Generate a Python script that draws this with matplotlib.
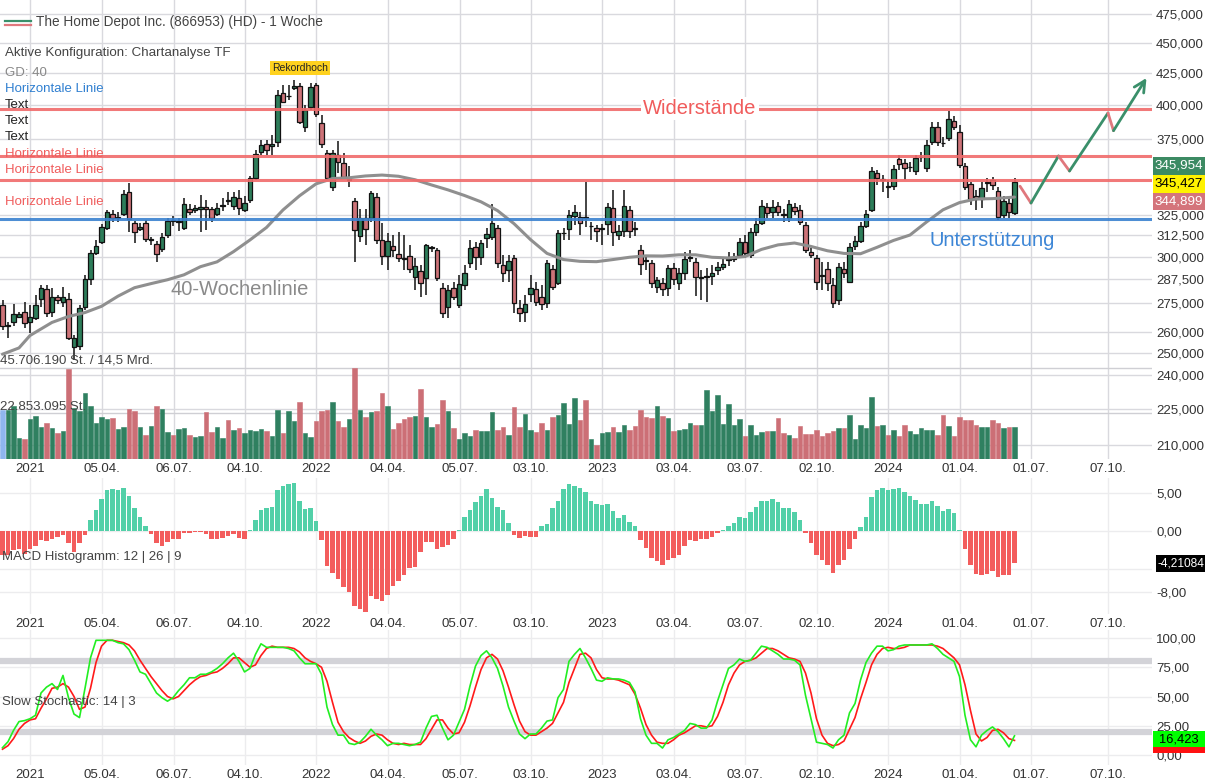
import numpy as np
import pandas as pd
import matplotlib
matplotlib.use('Agg')
import matplotlib.pyplot as plt
import matplotlib.dates as mdates
from matplotlib.lines import Line2D
from matplotlib.patches import Rectangle
from matplotlib.ticker import FixedLocator, NullLocator

plt.rcParams['font.family'] = ['Liberation Sans', 'DejaVu Sans']

W, H = 1205, 784

# weekly candles, first week = 30.11.2020
FIRST_WEEK = '2020-11-30'

opens = [
    273.9, 263.2, 265.2, 267.7, 270.3, 265.2, 267.2, 277.0, 282.3, 270.3,
    278.1, 275.4, 277.0, 252.9, 253.4, 272.8, 287.7, 302.2, 308.6, 316.9,
    325.4, 322.9, 325.4, 339.3, 319.9, 316.3, 319.9, 309.8, 307.4, 304.5,
    312.7, 321.8, 320.8, 316.9, 328.5, 327.9, 328.5, 329.7, 328.5, 325.4,
    330.4, 334.2, 330.4, 335.4, 327.9, 334.2, 348.4, 365.9, 371.5, 370.1,
    372.9, 409.2, 406.5, 413.1, 414.6, 383.7, 398.5, 415.4, 386.6, 365.2,
    342.5, 363.9, 358.3, 346.8, 333.5, 312.1, 322.9, 322.9, 336.0, 309.8,
    300.5, 306.3, 301.6, 299.4, 300.5, 288.8, 292.1, 288.2, 305.2, 304.0,
    282.8, 272.8, 282.8, 273.9, 284.5, 296.6, 305.7, 299.9, 311.0, 311.5,
    316.9, 295.5, 292.7, 299.4, 272.3, 270.3, 279.8, 282.3, 278.1, 274.9,
    293.2, 285.5, 313.6, 316.3, 324.2, 323.5, 323.5, 317.8, 316.9, 316.5,
    319.3, 329.1, 312.7, 315.1, 327.9, 316.9, 304.0, 298.3, 296.6, 283.4,
    285.5, 282.8, 293.8, 285.5, 291.0, 299.4, 297.2, 288.5, 288.8, 289.3,
    292.7, 294.4, 298.3, 298.8, 301.1, 308.6, 301.1, 314.5, 319.9, 329.7,
    326.6, 330.4, 325.4, 322.9, 329.7, 327.9, 318.7, 302.8, 299.4, 289.9,
    293.2, 284.5, 276.5, 293.2, 286.1, 306.3, 309.2, 318.1, 327.9, 351.7,
    347.1, 342.8, 343.1, 361.1, 358.3, 355.4, 353.0, 362.2, 355.0, 372.9,
    383.7, 372.5, 375.8, 388.1, 380.1, 356.4, 344.4, 336.7, 334.8, 345.1,
    347.1, 339.9, 324.8, 332.2, 326.0]

highs = [
    276.5, 265.2, 274.4, 270.3, 275.4, 273.9, 279.2, 284.5, 284.5, 282.8,
    279.2, 283.3, 280.3, 258.8, 273.9, 289.9, 304.0, 309.8, 319.2, 327.9,
    327.9, 326.6, 340.6, 345.1, 321.0, 319.9, 321.8, 311.6, 309.2, 313.9,
    322.9, 324.2, 322.9, 335.4, 331.6, 331.0, 337.4, 334.0, 329.7, 332.2,
    335.4, 339.3, 339.3, 340.6, 336.7, 349.8, 367.3, 374.4, 374.4, 377.9,
    411.5, 415.4, 415.4, 419.4, 417.0, 400.0, 417.0, 417.0, 392.5, 367.3,
    367.3, 373.6, 365.2, 356.4, 335.4, 328.5, 328.5, 339.9, 338.6, 319.9,
    313.9, 312.7, 314.5, 312.7, 306.9, 299.4, 295.5, 307.4, 306.3, 305.0,
    285.5, 284.5, 286.1, 289.9, 295.5, 309.8, 308.6, 309.8, 316.9, 331.6,
    318.7, 301.1, 301.1, 301.1, 276.5, 279.2, 289.9, 286.1, 284.5, 298.3,
    295.5, 315.7, 316.9, 327.9, 331.0, 326.6, 345.7, 320.6, 318.7, 319.2,
    332.2, 340.6, 318.7, 340.6, 330.4, 320.6, 306.9, 301.1, 298.3, 288.8,
    288.2, 295.5, 296.6, 293.8, 302.8, 304.0, 299.4, 292.7, 293.8, 295.5,
    297.2, 299.4, 302.8, 302.2, 311.0, 312.7, 316.9, 322.9, 334.2, 332.2,
    334.2, 332.8, 328.5, 334.2, 332.2, 331.0, 320.6, 305.1, 301.1, 297.2,
    297.2, 288.2, 296.6, 297.2, 308.0, 312.1, 320.6, 327.9, 355.7, 353.7,
    350.4, 347.1, 357.1, 363.9, 360.9, 359.1, 363.9, 365.9, 374.4, 387.3,
    387.3, 376.5, 395.5, 391.8, 385.1, 358.3, 345.7, 340.6, 345.7, 348.4,
    349.1, 342.5, 336.7, 336.7, 348.4]

lows = [
    261.3, 257.3, 263.2, 267.2, 262.2, 259.8, 266.3, 272.8, 267.7, 267.7,
    274.4, 272.8, 256.4, 246.8, 251.5, 271.4, 284.5, 301.0, 307.4, 315.7,
    320.6, 320.6, 324.2, 314.5, 308.0, 315.1, 308.6, 306.9, 297.1, 302.8,
    311.0, 318.0, 315.1, 315.7, 324.8, 326.0, 314.5, 315.7, 320.6, 324.2,
    327.3, 331.0, 327.9, 324.8, 326.6, 332.2, 347.1, 363.9, 363.9, 363.9,
    369.5, 401.5, 403.8, 411.5, 385.9, 380.0, 396.2, 391.0, 369.0, 347.0,
    340.0, 352.0, 347.8, 342.5, 297.2, 308.6, 306.9, 320.6, 307.4, 295.5,
    292.7, 300.0, 297.2, 292.7, 291.0, 281.8, 278.0, 279.2, 302.8, 286.6,
    267.3, 267.3, 276.5, 272.3, 281.8, 293.8, 292.7, 295.5, 305.1, 309.8,
    293.8, 286.1, 286.1, 269.8, 265.2, 265.2, 275.4, 273.4, 271.4, 272.3,
    281.8, 284.5, 309.8, 309.8, 318.7, 312.7, 317.5, 309.8, 308.6, 306.9,
    312.7, 306.3, 309.8, 311.5, 311.0, 312.1, 289.9, 292.7, 282.8, 280.2,
    278.6, 278.6, 284.5, 281.8, 287.2, 297.2, 278.6, 276.5, 275.4, 284.5,
    289.9, 292.7, 294.9, 297.2, 299.4, 299.4, 299.4, 312.1, 318.7, 322.9,
    322.9, 324.2, 320.6, 320.6, 324.8, 318.7, 302.2, 299.4, 281.8, 281.8,
    281.0, 272.3, 273.9, 288.2, 285.5, 304.0, 308.0, 316.9, 326.6, 343.8,
    339.3, 335.4, 340.6, 353.7, 347.1, 352.4, 350.4, 359.1, 352.4, 370.8,
    370.1, 369.5, 373.6, 381.5, 355.0, 340.6, 331.0, 327.9, 329.1, 339.3,
    340.6, 321.8, 322.9, 322.9, 324.8]

closes = [
    263.2, 263.7, 269.2, 269.2, 264.7, 267.7, 273.9, 282.8, 269.8, 278.1,
    276.5, 278.1, 257.3, 257.3, 272.3, 287.7, 302.2, 306.3, 317.5, 326.6,
    322.9, 323.5, 338.0, 322.3, 314.5, 317.5, 310.4, 310.2, 301.6, 311.5,
    321.1, 321.4, 321.4, 331.6, 326.6, 329.1, 329.7, 328.5, 322.9, 329.1,
    331.0, 333.8, 336.0, 329.1, 332.2, 348.4, 364.6, 370.8, 367.3, 371.5,
    407.7, 402.3, 406.9, 414.6, 387.3, 396.2, 413.9, 393.2, 371.5, 348.4,
    365.2, 359.1, 349.0, 347.4, 315.7, 322.9, 316.3, 338.6, 309.8, 300.5,
    309.2, 304.0, 299.4, 298.8, 293.2, 294.9, 285.5, 306.9, 305.7, 288.2,
    269.8, 281.8, 278.1, 285.0, 291.0, 305.1, 299.9, 308.0, 313.3, 319.9,
    296.6, 291.0, 297.7, 274.9, 269.8, 274.4, 282.8, 275.4, 274.4, 296.6,
    283.4, 313.9, 313.9, 324.8, 326.6, 319.9, 323.0, 318.3, 315.1, 316.9,
    329.7, 314.5, 315.1, 330.4, 315.1, 316.5, 296.0, 297.8, 285.5, 287.2,
    282.3, 293.8, 287.7, 291.0, 298.8, 299.9, 288.8, 288.8, 289.3, 291.0,
    294.4, 296.0, 298.8, 299.4, 308.6, 302.2, 314.5, 319.3, 330.4, 326.0,
    329.7, 326.6, 325.0, 331.6, 327.2, 320.6, 304.0, 301.1, 286.1, 289.6,
    285.5, 274.9, 294.3, 291.0, 305.7, 309.2, 318.1, 325.4, 353.0, 348.4,
    347.4, 342.5, 354.4, 357.7, 355.0, 355.7, 361.8, 362.5, 370.8, 383.7,
    372.9, 372.2, 389.5, 383.7, 357.1, 342.5, 334.8, 334.8, 341.8, 345.7,
    343.8, 323.6, 333.5, 326.6, 345.427]

# weekly volume in million shares
volume_mio = [
    24.3, 24.3, 26.7, 10.5, 10.0, 20.0, 21.3, 15.8, 18.0, 15.5,
    13.0, 13.8, 45.0, 25.5, 23.8, 33.0, 26.3, 18.0, 21.0, 20.0,
    20.5, 15.0, 16.0, 25.0, 24.2, 16.0, 11.8, 16.3, 26.3, 25.0,
    13.3, 12.0, 15.0, 15.5, 12.2, 11.0, 11.7, 23.5, 13.3, 16.0,
    10.5, 19.7, 14.3, 15.5, 13.0, 14.3, 14.2, 15.0, 14.2, 11.7,
    24.7, 13.0, 23.8, 19.2, 28.5, 13.0, 11.0, 19.2, 24.2, 24.3,
    28.5, 19.2, 16.0, 20.0, 45.5, 24.3, 20.8, 23.5, 24.2, 33.0,
    26.3, 15.0, 18.0, 20.0, 20.8, 21.3, 35.0, 21.0, 15.8, 17.5,
    29.3, 24.2, 15.5, 10.2, 13.0, 11.7, 14.7, 14.2, 14.2, 23.3,
    14.7, 16.0, 12.2, 25.8, 16.0, 22.7, 14.7, 13.3, 18.0, 14.3,
    21.0, 22.2, 28.0, 17.5, 30.5, 19.3, 29.7, 10.2, 7.2, 13.0,
    13.3, 15.8, 13.3, 17.2, 14.7, 16.3, 24.7, 21.0, 20.5, 26.3,
    21.7, 20.5, 13.8, 14.7, 15.0, 18.0, 17.2, 16.8, 34.7, 23.8,
    32.2, 17.7, 27.5, 17.2, 20.0, 11.3, 17.2, 12.2, 13.5, 13.8,
    14.2, 20.5, 13.0, 11.8, 10.7, 16.3, 12.5, 12.5, 14.7, 11.3,
    13.0, 14.0, 15.3, 15.5, 22.2, 10.2, 16.8, 15.5, 31.0, 16.7,
    17.2, 11.8, 14.3, 11.7, 17.2, 14.2, 12.7, 15.5, 14.7, 14.7,
    12.2, 22.2, 16.5, 11.7, 20.8, 19.5, 19.5, 16.8, 16.0, 16.2,
    19.7, 18.0, 15.5, 15.8, 15.8]

macd_hist = [
    -3.1, -3.1, -2.5, -2.3, -3.0, -2.3, -2.0, -1.2, -1.3, -1.0,
    -0.75, -0.5, -1.6, -2.7, -1.6, -0.5, 1.5, 2.7, 4.2, 5.4,
    5.5, 5.4, 5.7, 4.6, 3.0, 1.9, 0.7, -0.4, -1.6, -1.9,
    -1.4, -1.1, -1.1, -0.3, -0.2, -0.1, -0.1, -0.35, -1.0, -1.0,
    -0.85, -0.65, -0.35, -0.85, -1.0, 0.1, 1.5, 2.7, 3.0, 3.1,
    5.4, 5.9, 6.2, 6.3, 4.0, 2.9, 3.0, 1.3, -1.2, -4.6,
    -5.5, -6.3, -7.4, -8.0, -9.8, -10.3, -10.6, -8.6, -8.9, -9.2,
    -8.4, -7.2, -6.5, -5.8, -4.9, -4.7, -2.7, -1.4, -1.4, -2.4,
    -2.1, -1.8, -1.0, 0.1, 1.9, 2.7, 3.8, 4.6, 5.5, 4.3,
    3.2, 2.7, 1.0, -0.5, -0.9, -0.7, -0.75, -0.75, 0.7, 0.9,
    3.0, 4.0, 5.5, 6.2, 5.9, 5.7, 5.1, 3.9, 3.5, 3.4,
    3.6, 2.6, 1.7, 2.1, 1.2, 0.7, -1.2, -2.2, -3.5, -4.0,
    -4.5, -3.8, -3.5, -3.1, -1.9, -1.2, -1.3, -1.1, -1.1, -0.75,
    -0.2, 0.15, 0.6, 1.0, 1.8, 1.7, 2.5, 3.1, 4.0, 4.0,
    4.2, 3.8, 3.0, 3.0, 2.5, 1.5, -0.2, -1.6, -3.1, -3.8,
    -4.5, -5.5, -4.5, -3.8, -2.3, -1.0, 0.5, 1.8, 4.5, 5.4,
    5.7, 5.4, 5.5, 5.7, 5.1, 4.6, 4.1, 3.5, 3.6, 3.9,
    3.3, 2.6, 2.9, 2.4, 0.1, -2.3, -4.5, -5.7, -5.8, -5.6,
    -5.2, -6.0, -5.8, -5.8, -4.21084]

stoch_k = [
    6.3, 11.4, 21, 28.6, 29.4, 31, 34, 53, 58, 61,
    56, 68, 49, 35, 32, 57, 83, 98, 98, 98,
    98, 96, 95, 90, 81, 71, 69, 61, 53, 49,
    46, 49, 55, 60, 66, 66, 69, 69, 71, 74,
    78, 83, 87, 80, 71, 74, 86, 95, 92, 92,
    92, 92, 91, 89, 83, 78, 78, 78, 69, 41,
    26, 17, 17, 10, 9, 11, 16, 22, 17, 13,
    8, 10, 10, 9, 8, 9, 11, 23, 33, 34,
    23, 13, 17, 28, 39, 59, 76, 85, 89, 83,
    74, 59, 41, 29, 18, 14, 18, 18, 23, 29,
    30, 49, 56, 80, 86, 91, 83, 74, 64, 63,
    66, 65, 65, 64, 62, 54, 31, 17, 10, 10,
    6, 13, 15, 18, 21, 27, 26, 23, 23, 30,
    46, 60, 74, 77, 82, 80, 81, 87, 93, 92,
    89, 86, 82, 82, 81, 77, 51, 31, 11, 10,
    9, 6, 13, 17, 36, 44, 64, 79, 87, 93,
    93, 89, 90, 93, 94, 94, 94, 94, 94, 95,
    91, 86, 83, 80, 67, 34, 13, 7, 17, 21,
    24, 20, 14, 7, 16.423]

stoch_d = [
    5, 8, 14, 22, 27, 30, 31, 40, 48, 57,
    58, 61, 58, 50, 39, 41, 57, 79, 93, 98,
    98, 97, 96, 94, 89, 81, 74, 67, 61, 55,
    50, 48, 50, 55, 60, 64, 67, 68, 70, 71,
    74, 78, 83, 83, 79, 75, 77, 85, 91, 93,
    92, 92, 92, 91, 88, 83, 80, 78, 75, 63,
    45, 28, 20, 15, 12, 10, 12, 16, 18, 17,
    13, 10, 9, 10, 9, 9, 9, 14, 22, 30,
    30, 23, 18, 19, 28, 42, 58, 73, 83, 86,
    82, 72, 58, 43, 29, 20, 17, 17, 20, 23,
    27, 36, 45, 62, 74, 86, 87, 83, 73, 66,
    65, 65, 64, 62, 60, 52, 40, 26, 17, 11,
    10, 10, 13, 17, 19, 22, 25, 25, 24, 25,
    33, 45, 60, 70, 77, 80, 81, 83, 87, 91,
    91, 89, 86, 83, 82, 80, 70, 53, 31, 17,
    10, 8, 9, 12, 22, 32, 48, 62, 77, 86,
    91, 92, 91, 91, 92, 94, 94, 94, 94, 94,
    93, 91, 87, 83, 77, 60, 38, 18, 12, 15,
    21, 22, 19, 14, 12.5]

# 40-week moving average (week index from first candle, value)
gd40_weeks = [0, 3, 5, 9, 12, 15, 18, 21, 24, 27,
              30, 33, 36, 39, 42, 45, 48, 51, 54, 57,
              60, 63, 66, 69, 72, 75, 78, 81, 84, 87,
              90, 93, 96, 99, 102, 105, 108, 111, 114, 117,
              120, 123, 126, 129, 132, 135, 138, 141, 144, 147,
              150, 153, 156, 159, 162, 165, 168, 171, 174, 177,
              180, 184]
gd40_values = [249.5, 252.5, 258.5, 265.0, 268.0, 270.0, 273.2, 278.5, 283.0, 285.2,
               287.3, 290.0, 294.5, 297.2, 303.0, 309.8, 317.2, 327.9, 336.8, 344.5,
               348.0, 348.5, 349.7, 350.3, 349.5, 347.2, 343.8, 340.6, 337.0, 333.0,
               327.5, 319.5, 310.0, 302.0, 298.5, 297.5, 297.3, 298.5, 299.8, 300.6,
               300.5, 301.2, 301.2, 299.8, 299.4, 300.2, 304.3, 306.9, 308.0, 306.0,
               303.5, 302.0, 301.8, 305.5, 309.5, 312.7, 320.5, 328.0, 332.5, 334.8,
               335.0, 336.0]

resistance_levels = [397.0, 363.2, 347.1]
support_level = 322.6

forecast_weeks = [185, 187, 192, 194, 201, 202, 208]
forecast_prices = [343.0, 332.2, 363.2, 353.0, 394.0, 381.0, 421.0]

tick_dates = ['2021-01-04', '2021-04-05', '2021-07-06', '2021-10-04', '2022-01-03',
              '2022-04-04', '2022-07-05', '2022-10-03', '2023-01-02', '2023-04-03',
              '2023-07-03', '2023-10-02', '2024-01-01', '2024-04-01', '2024-07-01',
              '2024-10-07']
tick_labels = ['2021', '05.04.', '06.07.', '04.10.', '2022', '04.04.', '05.07.', '03.10.',
               '2023', '03.04.', '03.07.', '02.10.', '2024', '01.04.', '01.07.', '07.10.']
price_ticks = [210, 225, 240, 250, 260, 275, 287.5, 300, 312.5, 325, 375, 400, 425, 450, 475]
macd_ticks = [5, 0, -5, -8]
stoch_ticks = [0, 25, 50, 75, 100]

GREEN = '#2d7d5a'
RED = '#cd7378'
GRID = '#d9d9de'
LIGHT = '#ececee'
TXT = '#444444'

start = pd.Timestamp(FIRST_WEEK)
dates = pd.date_range(start, periods=len(closes), freq='7D')
x = mdates.date2num(dates)
week_days = 7.0
px_per_week = 5.5
x0 = mdates.date2num(pd.Timestamp('2021-01-04')) - 30 / px_per_week * week_days
x1 = x0 + 1152 / px_per_week * week_days
tick_x = mdates.date2num(pd.to_datetime(tick_dates))

fig = plt.figure(figsize=(W / 100, H / 100), dpi=100)
fig.patch.set_facecolor('white')


def px_axes(left, top, right, bottom):
    return fig.add_axes([left / W, 1 - bottom / H, (right - left) / W, (bottom - top) / H])


def style(ax, grid_color):
    for s in ax.spines.values():
        s.set_visible(False)
    ax.set_xlim(x0, x1)
    ax.set_xticks(tick_x)
    ax.set_xticklabels(tick_labels)
    ax.yaxis.tick_right()
    ax.tick_params(axis='both', length=0, labelsize=9.5, labelcolor='#333333')
    ax.tick_params(axis='x', pad=3)
    ax.tick_params(axis='y', pad=3)
    ax.grid(True, color=grid_color, lw=1)
    ax.set_axisbelow(True)


def de(v, nd):
    return f'{v:.{nd}f}'.replace('.', ',')


# ---------------- main price panel ----------------
ax = px_axes(0, 0, 1152, 459)
style(ax, GRID)
ax.set_yscale('log')
ax.set_ylim(204.6, 488.0)
ax.yaxis.set_major_locator(FixedLocator(price_ticks))
ax.yaxis.set_minor_locator(NullLocator())
ax.set_yticklabels([de(v, 3) for v in price_ticks])

o, h, l, c = map(np.array, (opens, highs, lows, closes))
up = c >= o
ax.vlines(x, l, h, color='#111111', lw=1.1, zorder=3)
ax.bar(x, np.abs(c - o), bottom=np.minimum(o, c), width=4.3 / px_per_week * week_days,
       color=np.where(up, GREEN, RED), edgecolor='#111111', linewidth=0.9, zorder=4)

ma_x = mdates.date2num(start + pd.to_timedelta(np.array(gd40_weeks) * 7, unit='D'))
ax.plot(ma_x, gd40_values, color='#8f8f8f', lw=2.2, zorder=5, solid_capstyle='round')

for r in resistance_levels:
    ax.axhline(r, color='#f06b6b', lw=2.2, alpha=0.9, zorder=6)
ax.axhline(support_level, color='#3b82d0', lw=2.2, alpha=0.9, zorder=6)

fc_x = mdates.date2num(start + pd.to_timedelta(np.array(forecast_weeks) * 7, unit='D'))
for k in range(len(fc_x) - 1):
    col = '#3a8f6a' if forecast_prices[k + 1] > forecast_prices[k] else '#e0777d'
    if k == len(fc_x) - 2:
        ax.annotate('', xy=(fc_x[k + 1], forecast_prices[k + 1]),
                    xytext=(fc_x[k], forecast_prices[k]),
                    arrowprops=dict(arrowstyle='->', color=col, lw=2, mutation_scale=20,
                                    shrinkA=0, shrinkB=0), zorder=7)
    else:
        ax.plot(fc_x[k:k + 2], forecast_prices[k:k + 2], color=col, lw=2, zorder=7,
                solid_capstyle='round')


def wk(n):
    return mdates.date2num(start + pd.Timedelta(days=7 * n))


ax.text(wk(126.8), resistance_levels[0], 'Widerstände', ha='center', va='center',
        color='#f05c5c', fontsize=14.5, zorder=8,
        bbox=dict(fc='white', ec='none', pad=1.5))
ax.text(wk(168.6), 309.2, 'Unterstützung', ha='left', va='center',
        color='#3d86d6', fontsize=14.5, zorder=8)
ax.text(wk(30.5), 281.8, '40-Wochenlinie', ha='left', va='center',
        color='#8a8a8a', fontsize=14.5, zorder=8)
ax.text(wk(54.1), 429.0, 'Rekordhoch', ha='center', va='center', fontsize=7.5,
        color='#222222', zorder=8, bbox=dict(fc='#ffd21f', ec='none', pad=1.5))

# ---------------- volume overlay ----------------
axv = px_axes(0, 340, 1152, 459)
axv.patch.set_visible(False)
for s in axv.spines.values():
    s.set_visible(False)
axv.set_xlim(x0, x1)
axv.set_ylim(0, 59.5)
axv.set_xticks([])
axv.set_yticks([])
vcol = np.where(up, '#2f8060', '#cc6f76').astype(object)
vcol[0] = '#8fb6ef'
axv.bar(x, volume_mio, width=4.6 / px_per_week * week_days, color=list(vcol),
        edgecolor=list(vcol), linewidth=0.4, zorder=2)
for ref in (45.706190, 22.853095):
    axv.axhline(ref, color='#cfcfd4', lw=1, zorder=1)
axv.text(x0 + 0.3, 45.706190 + 0.3, '45.706.190 St. / 14,5 Mrd.', ha='left', va='bottom',
         fontsize=9.5, color=TXT, zorder=3)
axv.text(x0 + 0.3, 22.853095 + 0.3, '22.853.095 St.', ha='left', va='bottom',
         fontsize=9.5, color=TXT, zorder=3)

# ---------------- MACD ----------------
axm = px_axes(0, 478, 1152, 614)
style(axm, LIGHT)
axm.set_ylim(-10.9, 6.97)
axm.set_yticks(macd_ticks)
# the -5 label sits under the current-value box
axm.set_yticklabels(['' if v == -5 else de(v, 2) for v in macd_ticks])
mh = np.array(macd_hist)
axm.bar(x, mh, width=6.0, color=np.where(mh >= 0, '#52d0a8', '#f35d5d'), zorder=3)
axm.text(x0 + 3, -3.4, 'MACD Histogramm: 12 | 26 | 9', ha='left', va='center',
         fontsize=9.5, color=TXT, zorder=4)

# ---------------- Slow Stochastic ----------------
axs = px_axes(0, 630, 1152, 765)
style(axs, LIGHT)
axs.set_ylim(-8.5, 106.8)
axs.set_yticks(stoch_ticks)
axs.set_yticklabels([de(v, 2) for v in stoch_ticks])
axs.axhline(80, color='#d3d3d8', lw=4.5, zorder=2)
axs.axhline(20, color='#d3d3d8', lw=4.5, zorder=2)
axs.plot(x, stoch_d, color='#ff1a1a', lw=1.2, zorder=3)
axs.plot(x, stoch_k, color='#22ee22', lw=1.2, zorder=4)
axs.text(x0 + 3, 45.0, 'Slow Stochastic: 14 | 3', ha='left', va='center',
         fontsize=9.5, color=TXT, zorder=5)


# ---------------- header texts ----------------
def ftxt(px, py, s, color, size=9.5):
    fig.text(px / W, 1 - py / H, s, ha='left', va='center', color=color, fontsize=size)


fig.add_artist(Line2D([5 / W, 31 / W], [1 - 20.5 / H] * 2, color='#3a8f6a', lw=1.6))
fig.add_artist(Line2D([5 / W, 31 / W], [1 - 24.5 / H] * 2, color='#e0777d', lw=1.6))
ftxt(36, 22, 'The Home Depot Inc. (866953) (HD) - 1 Woche', '#444444', 9.8)
ftxt(5, 53, 'Aktive Konfiguration: Chartanalyse TF', '#444444', 9.6)
ftxt(5, 73, 'GD: 40', '#888888')
ftxt(5, 89, 'Horizontale Linie', '#2f7fd0')
for yy in (105, 121, 137):
    ftxt(5, yy, 'Text', '#222222')
for yy in (154, 170, 202):
    ftxt(5, yy, 'Horizontale Linie', '#f05c5c')


# ---------------- right value boxes ----------------
def vbox(top, bottom, left, s, fc, tc, size=9.6):
    fig.add_artist(Rectangle((left / W, 1 - bottom / H), (W - left) / W, (bottom - top) / H,
                             transform=fig.transFigure, fc=fc, ec='none', zorder=10))
    if s:
        fig.text((left + W) / 2 / W, 1 - (top + bottom) / 2 / H, s, ha='center',
                 va='center', color=tc, fontsize=size, zorder=11)


vbox(157, 175, 1153, '345,954', '#3c8a63', 'white')
vbox(175, 193, 1153, '345,427', '#fff200', 'black')
vbox(193, 210, 1153, '344,899', '#d4747b', 'white')
vbox(555, 572, 1156, '-4,21084', 'black', 'white', 8.6)
vbox(745, 753, 1153, '', '#ff1111', 'black')
vbox(731, 747, 1153, '16,423', '#00ff00', 'black', 9.3)

fig.savefig('out.png', dpi=100, facecolor='white')
